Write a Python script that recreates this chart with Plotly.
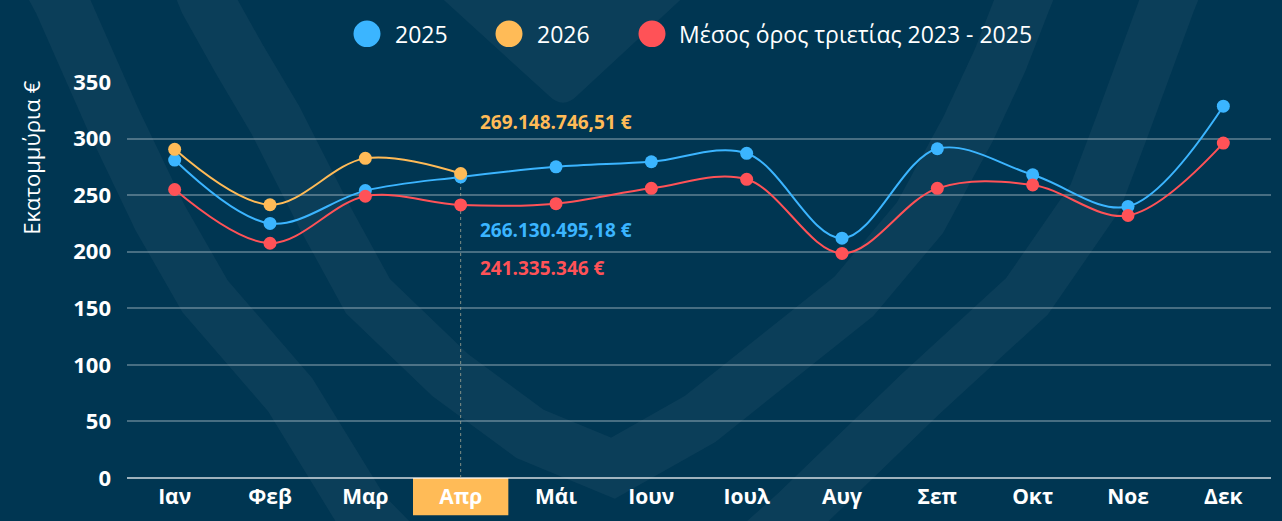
import plotly.graph_objects as go

# ---------------- data ----------------
months = ["Ιαν", "Φεβ", "Μαρ", "Απρ", "Μάι", "Ιουν", "Ιουλ", "Αυγ", "Σεπ", "Οκτ", "Νοε", "Δεκ"]
values_2025 = [281, 225, 254, 266.13, 275, 279.5, 287, 212, 291, 268, 240, 328.6]
values_2026 = [290.5, 241.5, 282.5, 269.15, None, None, None, None, None, None, None, None]
values_avg = [255, 207.5, 249, 241.34, 242.5, 256, 264, 198.5, 256, 259, 232, 296]
series_names = ["2025", "2026", "Μέσος όρος τριετίας 2023 - 2025"]
highlight_labels = ["269.148.746,51 €", "266.130.495,18 €", "241.335.346 €"]
y_ticks = [0, 50, 100, 150, 200, 250, 300, 350]
y_title = "Εκατομμύρια €"

# ---------------- style ----------------
W, H = 1282, 521
ML, MR, MT, MB = 127, 11, 82, 36
PW, PH = W - ML - MR, H - MT - MB
BG = "#003652"
BAND = "rgba(255,255,255,0.045)"
C_BLUE = "#3bb5ff"
C_ORANGE = "#ffbb57"
C_RED = "#ff5257"
FONT = "Open Sans"


def px(x):
    return (x - ML) / PW


def py(y):
    return (H - MB - y) / PH


def path_from(points, close=False):
    s = "M " + " L ".join(f"{px(x):.5f},{py(y):.5f}" for x, y in points)
    return s + (" Z" if close else "")


fig = go.Figure()

colors = [C_BLUE, C_ORANGE, C_RED]
for vals, name, col in zip([values_2025, values_2026, values_avg], series_names, colors):
    fig.add_trace(go.Scatter(
        x=months, y=vals, name=name, mode="lines+markers",
        line=dict(color=col, width=2, shape="spline", smoothing=1),
        marker=dict(color=col, size=13),
        showlegend=False, hoverinfo="skip", connectgaps=False,
    ))

shapes = []
# decorative background logo bands
outer_v = [(45, -30), (61, 0), (113, 120), (160, 220), (205, 300), (290, 400), (363, 521),
           (430, 590), (600, 700), (797, 521), (920, 400), (1027, 300), (1095, 200),
           (1121, 130), (1168, 0), (1180, -30)]
inner_v = [(195, -30), (207, 0), (240, 60), (275, 120), (325, 220), (368, 300), (450, 380),
           (530, 440), (613, 475), (700, 425), (780, 360), (854, 300), (920, 220),
           (968, 130), (1000, 60), (1023, 0), (1035, -30)]
for pts in (outer_v, inner_v):
    shapes.append(dict(type="path", xref="paper", yref="paper", layer="below",
                       path=path_from(pts), line=dict(color=BAND, width=55),
                       fillcolor="rgba(0,0,0,0)"))
tip = (f"M {px(440):.5f},{py(-5):.5f} L {px(549):.5f},{py(96):.5f} "
       f"Q {px(563):.5f},{py(110):.5f} {px(577):.5f},{py(96):.5f} "
       f"L {px(684):.5f},{py(-5):.5f} Z")
shapes.append(dict(type="path", xref="paper", yref="paper", layer="below", path=tip,
                   fillcolor=BAND, line=dict(width=0)))

# highlighted month box under axis
shapes.append(dict(type="rect", xref="paper", yref="paper", layer="below",
                   x0=3 / 12, x1=4 / 12, y0=py(H + 2), y1=0,
                   fillcolor=C_ORANGE, line=dict(width=0)))
# dotted crosshair at highlighted month
shapes.append(dict(type="line", xref="x", yref="y", layer="between",
                   x0=months[3], x1=months[3], y0=0, y1=values_2025[3],
                   line=dict(color="rgba(170,170,150,0.75)", width=1, dash="dot")))

# manual legend
leg_cx = [367, 509, 652]
leg_tx = [393, 535, 677]
leg_y = 33
r = 13.5
for cx, col in zip(leg_cx, colors):
    shapes.append(dict(type="circle", xref="paper", yref="paper", layer="above",
                       x0=px(cx - r), x1=px(cx + r), y0=py(leg_y + r), y1=py(leg_y - r),
                       fillcolor=col, line=dict(width=0)))

annotations = []
for tx, name in zip(leg_tx, series_names):
    annotations.append(dict(text=name, xref="paper", yref="paper", x=px(tx), y=py(leg_y),
                            xanchor="left", yanchor="middle", showarrow=False,
                            font=dict(family=FONT, size=23, color="white")))

# value labels for highlighted month
label_ypx = [123, 233, 271]
for txt, ypix, col in zip(highlight_labels, label_ypx, [C_ORANGE, C_BLUE, C_RED]):
    annotations.append(dict(text=f"<b>{txt}</b>", xref="paper", yref="paper",
                            x=px(478), y=py(ypix), xanchor="left", yanchor="middle",
                            showarrow=False,
                            font=dict(family=FONT, size=19, color=col)))

# y-axis title
annotations.append(dict(text=y_title, xref="paper", yref="paper", x=px(31), y=py(159),
                        xanchor="center", yanchor="middle", textangle=-90, showarrow=False,
                        font=dict(family=FONT, size=22, color="white")))

fig.update_layout(
    width=W, height=H,
    margin=dict(l=ML, r=MR, t=MT, b=MB, pad=0),
    paper_bgcolor=BG, plot_bgcolor="rgba(0,0,0,0)",
    shapes=shapes, annotations=annotations,
    showlegend=False,
    font=dict(family=FONT, color="white"),
)
fig.update_xaxes(
    type="category", categoryorder="array", categoryarray=months,
    range=[-0.5, 11.5], showgrid=False, zeroline=False, showline=False,
    ticks="", tickfont=dict(family=FONT, size=21, color="white"),
    ticklabelstandoff=4,
    tickvals=months, ticktext=[f"<b>{m}</b>" for m in months],
)
fig.update_yaxes(
    range=[0, 350], tickvals=y_ticks, ticktext=[f"<b>{v}</b>" for v in y_ticks],
    showgrid=True, gridcolor="rgba(255,255,255,0.28)", gridwidth=1.5,
    zeroline=True, zerolinecolor="rgba(255,255,255,0.62)", zerolinewidth=2,
    showline=False, ticks="", tickfont=dict(family=FONT, size=22, color="white"),
    ticklabelstandoff=15,
)

fig.write_html(
    "out.html",
    config={"displayModeBar": False},
    post_script="document.body.style.margin='0';document.body.style.overflow='hidden';",
)
